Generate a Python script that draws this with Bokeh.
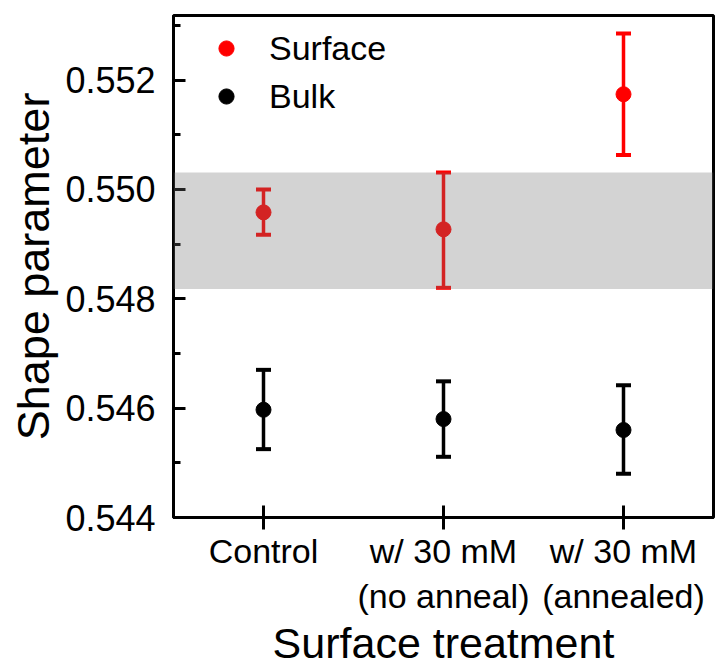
from bokeh.plotting import figure
from bokeh.models import (Range1d, FixedTicker, SingleIntervalTicker, NumeralTickFormatter,
                          BoxAnnotation, Legend, LegendItem, ColumnDataSource)
from bokeh.embed import file_html
from bokeh.resources import INLINE

# ---- data ----
x_pos = [1, 2, 3]
tick_labels = ["Control", "w/ 30 mM\n(no anneal)", "w/ 30 mM\n(annealed)"]
surface_mean = [0.54958, 0.54927, 0.55174]
surface_lower = [0.54917, 0.54820, 0.55063]
surface_upper = [0.55000, 0.55031, 0.55285]
bulk_mean = [0.54597, 0.54580, 0.54560]
bulk_lower = [0.54525, 0.54511, 0.54480]
bulk_upper = [0.54670, 0.54649, 0.54642]
band_low, band_high = 0.54818, 0.55031
x_title = "Surface treatment"
y_title = "Shape parameter"

FONT = "Liberation Sans"
RED = "#FF0000"
BLACK = "#000000"

p = figure(width=721, height=670, output_backend="svg", toolbar_location=None,
           x_range=Range1d(0.5, 3.5), y_range=Range1d(0.544, 0.55318),
           min_border_left=173, min_border_right=8, min_border_top=15, min_border_bottom=153)
p.grid.visible = False
p.outline_line_color = "black"
p.outline_line_width = 3
p.background_fill_color = "white"
p.border_fill_color = "white"

src_s = ColumnDataSource(dict(x=x_pos, y=surface_mean, lo=surface_lower, hi=surface_upper))
src_b = ColumnDataSource(dict(x=x_pos, y=bulk_mean, lo=bulk_lower, hi=bulk_upper))

for src, col in ((src_s, RED), (src_b, BLACK)):
    p.segment(x0="x", y0="lo", x1="x", y1="hi", source=src, line_color=col, line_width=3.5)
    p.scatter(x="x", y="lo", source=src, marker="dash", size=15, line_color=col, line_width=4)
    p.scatter(x="x", y="hi", source=src, marker="dash", size=15, line_color=col, line_width=4)

r_s = p.scatter(x="x", y="y", source=src_s, marker="circle", size=15, fill_color=RED, line_color=RED)
r_b = p.scatter(x="x", y="y", source=src_b, marker="circle", size=15, fill_color=BLACK, line_color=BLACK)

band = BoxAnnotation(bottom=band_low, top=band_high, fill_color="#717171", fill_alpha=0.31,
                     line_color=None)
p.add_layout(band)

legend = Legend(items=[LegendItem(label="Surface", renderers=[r_s]),
                       LegendItem(label="Bulk", renderers=[r_b])],
                location=(34, 400), border_line_color=None, background_fill_alpha=0,
                padding=0, margin=0, spacing=6, glyph_width=38, glyph_height=42,
                label_height=42, label_standoff=24,
                label_text_font=FONT, label_text_font_size="34px", label_text_color="black")
p.add_layout(legend)

# x axis
xa = p.xaxis[0]
xa.ticker = FixedTicker(ticks=x_pos)
xa.major_label_overrides = {x: l for x, l in zip(x_pos, tick_labels)}
xa.axis_label = x_title
xa.minor_tick_line_color = None
xa.major_tick_in = 12
xa.major_tick_out = 12
xa.major_tick_line_width = 3
xa.axis_line_width = 3
xa.major_label_standoff = 2
xa.axis_label_standoff = 1
xa.major_label_text_font_size = "34px"
xa.axis_label_text_font_size = "43px"
xa.axis_label_text_line_height = 0.6

# y axis
ya = p.yaxis[0]
ya.ticker = SingleIntervalTicker(interval=0.002, num_minor_ticks=2)
ya.formatter = NumeralTickFormatter(format="0.000")
ya.axis_label = y_title
ya.major_tick_in = 12
ya.major_tick_out = 0
ya.minor_tick_in = 7
ya.minor_tick_out = 0
ya.major_tick_line_width = 3
ya.minor_tick_line_width = 3
ya.axis_line_width = 3
ya.major_label_standoff = 18
ya.axis_label_standoff = 3
ya.major_label_text_font_size = "36px"
ya.axis_label_text_font_size = "45px"

for ax in (xa, ya):
    ax.major_label_text_font = FONT
    ax.major_label_text_color = "black"
    ax.axis_label_text_font = FONT
    ax.axis_label_text_font_style = "normal"
    ax.axis_label_text_color = "black"
    ax.axis_line_color = "black"
    ax.major_tick_line_color = "black"

open("out.html", "w").write(file_html(p, INLINE))
